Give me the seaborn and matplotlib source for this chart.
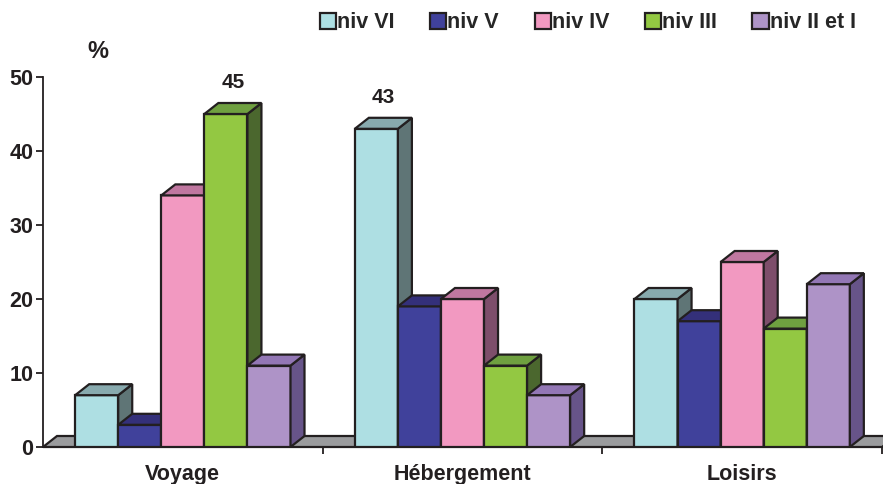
import matplotlib
matplotlib.use('Agg')
import matplotlib.pyplot as plt
import matplotlib.colors as mcolors
from matplotlib.patches import Polygon, Patch
import pandas as pd
import seaborn as sns

# Data (%)
categories = ['Voyage', 'Hébergement', 'Loisirs']
levels = ['niv VI', 'niv V', 'niv IV', 'niv III', 'niv II et I']
niv_vi = [7, 43, 20]
niv_v = [3, 19, 17]
niv_iv = [34, 20, 25]
niv_iii = [45, 11, 16]
niv_ii_i = [11, 7, 22]
yticks = [0, 10, 20, 30, 40, 50]
labelled = [('Voyage', 'niv III'), ('Hébergement', 'niv VI')]

front_colors = ['#AEDFE3', '#40419B', '#F299C1', '#93C842', '#AE93C7']
top_colors = ['#88AAAE', '#34307A', '#C077A0', '#6FA040', '#9377B5']
side_colors = ['#5F7576', '#2A2A66', '#7E4E6B', '#4B672E', '#675489']
edge = '#231F20'
floor_color = '#9A9B9D'

series = [niv_vi, niv_v, niv_iv, niv_iii, niv_ii_i]
rows = []
for lev, vals in zip(levels, series):
    for cat, v in zip(categories, vals):
        rows.append({'cat': cat, 'niv': lev, 'val': v})
df = pd.DataFrame(rows)

sns.set_style('white')
plt.rcParams['font.family'] = ['Liberation Sans', 'DejaVu Sans']
plt.rcParams['font.weight'] = 'bold'

fig = plt.figure(figsize=(8.83, 4.84), dpi=100)
ax = fig.add_axes([43 / 883, 1 - 447 / 484, 839 / 883, 370 / 484])

sns.barplot(data=df, x='cat', y='val', hue='niv', hue_order=levels, order=categories,
            palette=front_colors, saturation=1, width=0.77, edgecolor=edge,
            linewidth=1.6, legend=False, ax=ax)

ax.set_xlim(-0.5, 2.5)
ax.set_ylim(0, 50)

# bars drawn by seaborn, left to right
bars = sorted(list(ax.patches), key=lambda p: p.get_x())

# depth of the fake 3D effect, in pixels -> data units
px_x = 839 / 3.0
px_y = 370 / 50.0
dx = 14 / px_x
dy = 11 / px_y

# floor
floor = Polygon([(-0.5, 0), (-0.5 + dx, dy), (2.5 + dx, dy), (2.5, 0)], closed=True,
                facecolor=floor_color, edgecolor=edge, linewidth=1.6, zorder=1.5,
                clip_on=False)
ax.add_patch(floor)

hex_front = [mcolors.to_hex(c).lower() for c in front_colors]
bar_idx = []
for k, b in enumerate(bars):
    idx = hex_front.index(mcolors.to_hex(b.get_facecolor()).lower())
    bar_idx.append(idx)
    x0 = b.get_x()
    x1 = x0 + b.get_width()
    h = b.get_height()
    z = 3 + k * 0.01
    b.set_zorder(z)
    top = Polygon([(x0, h), (x0 + dx, h + dy), (x1 + dx, h + dy), (x1, h)], closed=True,
                  facecolor=top_colors[idx], edgecolor=edge, linewidth=1.6, zorder=z,
                  clip_on=False)
    side = Polygon([(x1, 0), (x1 + dx, dy), (x1 + dx, h + dy), (x1, h)], closed=True,
                   facecolor=side_colors[idx], edgecolor=edge, linewidth=1.6, zorder=z,
                   clip_on=False)
    ax.add_patch(side)
    ax.add_patch(top)

# value labels on the two tallest bars
for cat, lev in labelled:
    ci = categories.index(cat)
    li = levels.index(lev)
    v = series[li][ci]
    for b, idx in zip(bars, bar_idx):
        cx = b.get_x() + b.get_width() / 2
        if idx == li and int(round(cx)) == ci:
            ax.annotate(str(v), (cx + dx / 2, v + dy), xytext=(0, 8),
                        textcoords='offset points', ha='center', va='bottom',
                        fontsize=15, fontweight='bold', color='#231F20')

# axes styling
for s in ['top', 'right']:
    ax.spines[s].set_visible(False)
for s in ['left', 'bottom']:
    ax.spines[s].set_color(edge)
    ax.spines[s].set_linewidth(1.3)
    ax.spines[s].set_zorder(2)
ax.set_yticks(yticks)
ax.set_yticklabels([str(t) for t in yticks], fontsize=15.5, fontweight='bold', color='#231F20')
ax.tick_params(axis='y', direction='out', length=5, width=1.3, color=edge, pad=2, left=True)
ax.set_xticks(range(len(categories)))
ax.set_xticklabels(categories, fontsize=15.5, fontweight='bold', color='#231F20')
ax.set_xticks([0.5, 1.5, 2.5], minor=True)
ax.tick_params(axis='x', which='major', length=0, pad=12)
ax.tick_params(axis='x', which='minor', direction='out', length=5, width=1.3, color=edge,
               bottom=True)
ax.set_xlabel('')
ax.set_ylabel('')

fig.text(98 / 883, 1 - 52 / 484, '%', ha='center', va='center', fontsize=17,
         fontweight='bold', color='#231F20')

handles = [Patch(facecolor=c, edgecolor=edge, linewidth=1.6, label=l)
           for c, l in zip(front_colors, levels)]
fig.legend(handles=handles, loc='center left', bbox_to_anchor=(320 / 883, 1 - 23 / 484),
           ncol=5, frameon=False, handlelength=0.75, handleheight=0.75,
           handletextpad=0.05, columnspacing=1.65, borderpad=0, borderaxespad=0,
           prop={'weight': 'bold', 'size': 15.5})

fig.savefig('out.png', dpi=100)
